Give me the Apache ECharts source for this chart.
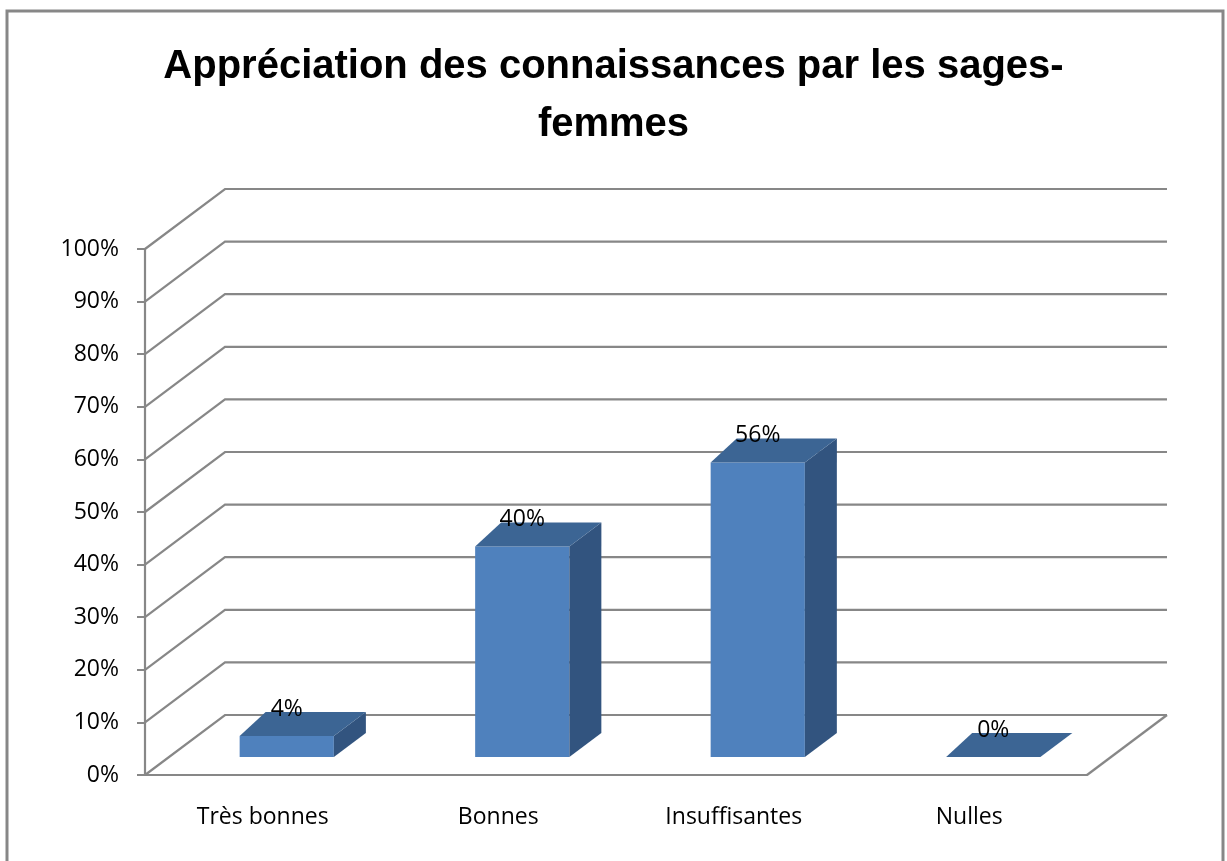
<!DOCTYPE html>
<html>
<head>
<meta charset="utf-8">
<title>Appréciation des connaissances par les sages-femmes</title>
<script src="https://cdn.jsdelivr.net/npm/echarts@6/dist/echarts.min.js"></script>
<style>
  html, body { margin: 0; padding: 0; background: #fff; }
  #main { width: 1227px; height: 861px; }
</style>
</head>
<body>
<div id="main"></div>
<script>
'use strict';

// données
var categories = ['Très bonnes', 'Bonnes', 'Insuffisantes', 'Nulles'];
var values = [4, 40, 56, 0];
var yTicks = [0, 10, 20, 30, 40, 50, 60, 70, 80, 90, 100];

var titleText = 'Appréciation des connaissances par les sages-\nfemmes';

// profondeur du "3D"
var DEPTH_X = 80, DEPTH_Y = -60;
var BAR_DX_L = 26, BAR_DX_R = 32, BAR_DY = -24;
var GRAY = '#878787';
var FONT = '"Open Sans", "Liberation Sans", sans-serif';

var myChart = echarts.init(document.getElementById('main'));

// murs + lignes de fond
var renderWall = function(params, api) {
    var cs = params.coordSys;
    var v = api.value(1);
    var p = api.coord([0, v]);
    var x0 = cs.x, y = p[1];
    var pts = [[x0, y], [x0 + DEPTH_X, y + DEPTH_Y], [x0 + cs.width + DEPTH_X, y + DEPTH_Y]];
    var children = [{
        type: 'polyline',
        shape: { points: pts },
        style: { stroke: GRAY, lineWidth: 2.2, fill: null }
    }];
    if (v === 0) {
        children.push({
            type: 'line',
            shape: { x1: x0 + cs.width, y1: y, x2: x0 + cs.width + DEPTH_X, y2: y + DEPTH_Y },
            style: { stroke: GRAY, lineWidth: 2.2 }
        });
    }
    return { type: 'group', children: children };
};

// barres 3D
var renderBar = function(params, api) {
    var i = api.value(0), v = api.value(1);
    var base = api.coord([i, 0]);
    var top = api.coord([i, v]);
    var band = api.size([1, 0])[0];
    var fw = band * 0.4;
    var off = 0.3;
    var cx = base[0] + DEPTH_X * off;
    var by = base[1] + DEPTH_Y * off;
    var ty = top[1] + DEPTH_Y * off;
    var x0 = cx - fw / 2, x1 = cx + fw / 2;
    var children = [];
    if (by - ty > 0.5) {
        children.push({
            type: 'rect',
            shape: { x: x0, y: ty, width: fw, height: by - ty },
            style: { fill: '#4f81bd' }
        });
        children.push({
            type: 'polygon',
            shape: { points: [[x1, ty], [x1 + BAR_DX_R, ty + BAR_DY], [x1 + BAR_DX_R, by + BAR_DY], [x1, by]] },
            style: { fill: '#32547f' }
        });
    }
    children.push({
        type: 'polygon',
        shape: { points: [[x0, ty], [x0 + BAR_DX_L, ty + BAR_DY], [x1 + BAR_DX_R, ty + BAR_DY], [x1, ty]] },
        style: { fill: '#3c6594' }
    });
    children.push({
        type: 'text',
        style: {
            text: v + '%',
            x: cx, y: ty + BAR_DY - 3,
            align: 'center', verticalAlign: 'middle',
            font: '23px ' + FONT,
            fill: '#000'
        }
    });
    return { type: 'group', children: children };
};

var option = {
    backgroundColor: '#fff',
    animation: false,
    title: {
        text: titleText,
        left: 'center',
        top: 33,
        textStyle: {
            fontFamily: '"Liberation Sans", Arial, sans-serif',
            fontWeight: 'bold',
            fontSize: 40,
            lineHeight: 58,
            color: '#000'
        }
    },
    graphic: [{
        type: 'rect',
        shape: { x: 7, y: 11, width: 1216, height: 870 },
        style: { fill: null, stroke: GRAY, lineWidth: 3 },
        z: 0
    }],
    grid: { left: 145, right: 140, top: 249, bottom: 86 },
    xAxis: {
        type: 'category',
        data: categories,
        axisLine: { lineStyle: { color: GRAY, width: 2.2 } },
        axisTick: { length: 8, lineStyle: { color: GRAY, width: 2 } },
        axisLabel: { color: '#000', fontSize: 23, fontFamily: FONT, margin: 31 },
        splitLine: { show: false }
    },
    yAxis: {
        type: 'value',
        min: 0, max: 100, interval: 10,
        axisLine: { show: true, lineStyle: { color: GRAY, width: 2.2 } },
        axisTick: { show: true, length: 8, lineStyle: { color: GRAY, width: 2 } },
        axisLabel: { color: '#000', fontSize: 23, fontFamily: FONT, margin: 26, formatter: '{value}%' },
        splitLine: { show: false }
    },
    series: [{
        type: 'custom',
        name: 'murs',
        z: 1,
        silent: true,
        renderItem: renderWall,
        data: yTicks.map(function(t) { return [0, t]; })
    }, {
        type: 'custom',
        name: 'barres',
        z: 3,
        renderItem: renderBar,
        data: values.map(function(v, i) { return [i, v]; })
    }]
};

myChart.setOption(option);
</script>
</body>
</html>
